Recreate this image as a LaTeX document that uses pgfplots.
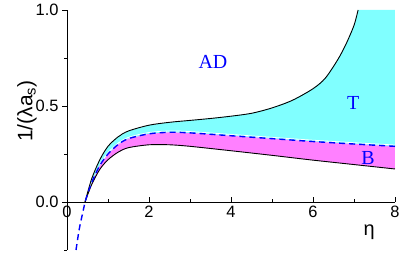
\documentclass[border=0pt]{standalone}
\usepackage{pgfplots}
\pgfplotsset{compat=1.18}
\usepgfplotslibrary{fillbetween}
\usepackage{fontspec}
\setmainfont{Liberation Sans}
\newfontfamily\seriffont{Liberation Serif}
\definecolor{mycyan}{RGB}{128,255,255}
\definecolor{mymag}{RGB}{255,128,255}
\begin{document}
\begin{tikzpicture}
\begin{axis}[
  at={(67bp,8bp)}, anchor=south west,
  scale only axis, width=328bp, height=240bp,
  xmin=0, xmax=8, ymin=-0.25, ymax=1.0,
  axis x line=middle, axis y line=left,
  axis line style={-, line width=0.6bp},
  hide obscured x ticks=false,
  xtick={0,2,4,6,8}, minor xtick={1,3,5,7},
  ytick={0,0.5,1}, minor ytick={-0.25,0.25,0.75},
  xtick align=inside, ytick align=outside,
  major tick length=5bp, minor tick length=3bp,
  tick style={black, line width=0.6bp},
  yticklabel style={/pgf/number format/.cd, fixed, fixed zerofill, precision=1},
  /pgf/number format/assume math mode=true,
  ticklabel style={font=\fontsize{16.5}{18}\selectfont},
  xticklabel style={yshift=-1bp},
  clip=false,
]
\addplot[name path=upext, draw=none] coordinates {
 (0.44,0) (0.6,0.12) (0.8,0.22) (1.0,0.29) (1.25,0.34) (1.5,0.37) (2,0.40) (2.5,0.415) (3,0.425) (3.5,0.435) (4,0.447) (4.5,0.462) (5,0.49) (5.5,0.53) (6,0.59) (6.3,0.645) (6.6,0.74) (6.8,0.82) (7.0,0.92) (7.1,1.0) (8,1.0)};
\addplot[name path=dash, draw=none] coordinates {
 (0.22,-0.25) (0.3,-0.14) (0.4,-0.04) (0.44,0) (0.6,0.10) (0.8,0.19) (1.0,0.25) (1.25,0.30) (1.5,0.33) (2,0.355) (2.5,0.363) (3,0.36) (4,0.345) (5,0.33) (6,0.315) (7,0.302) (8,0.29)};
\addplot[name path=low, draw=none] coordinates {
 (0.44,0) (0.6,0.09) (0.8,0.17) (1.0,0.22) (1.25,0.26) (1.5,0.283) (2,0.298) (2.5,0.298) (3,0.29) (4,0.267) (5,0.243) (6,0.218) (7,0.195) (8,0.172)};
\addplot[mycyan] fill between[of=upext and dash, soft clip={domain=0.44:8}];
\addplot[mymag] fill between[of=dash and low, soft clip={domain=0.44:8}];
\addplot[white, line width=0.8bp, smooth, yshift=1.3bp] coordinates {
 (0.8,0.19) (1.0,0.25) (1.25,0.30) (1.5,0.33) (2,0.355) (2.5,0.363) (3,0.36) (4,0.345) (5,0.33) (6,0.315) (7,0.302) (8,0.29)};
\addplot[black, line width=0.9bp, smooth] coordinates {
 (0.44,0) (0.6,0.12) (0.8,0.22) (1.0,0.29) (1.25,0.34) (1.5,0.37) (2,0.40) (2.5,0.415) (3,0.425) (3.5,0.435) (4,0.447) (4.5,0.462) (5,0.49) (5.5,0.53) (6,0.59) (6.3,0.645) (6.6,0.74) (6.8,0.82) (7.0,0.92) (7.1,1.0)};
\addplot[black, line width=0.9bp, smooth] coordinates {
 (0.44,0) (0.6,0.09) (0.8,0.17) (1.0,0.22) (1.25,0.26) (1.5,0.283) (2,0.298) (2.5,0.298) (3,0.29) (4,0.267) (5,0.243) (6,0.218) (7,0.195) (8,0.172)};
\addplot[blue, line width=1.4bp, dash pattern=on 6bp off 4bp, smooth] coordinates {
 (0.22,-0.25) (0.3,-0.14) (0.4,-0.04) (0.44,0) (0.6,0.10) (0.8,0.19) (1.0,0.25) (1.25,0.30) (1.5,0.33) (2,0.355) (2.5,0.363) (3,0.36) (4,0.345) (5,0.33) (6,0.315) (7,0.302) (8,0.29)};
\node[blue, font=\seriffont\fontsize{20}{22}\selectfont] at (axis cs:3.56,0.73) {AD};
\node[blue, font=\seriffont\fontsize{20}{22}\selectfont] at (axis cs:6.98,0.516) {T};
\node[blue, font=\seriffont\fontsize{20}{22}\selectfont] at (axis cs:7.34,0.23) {B};
\node[font=\fontsize{20}{22}\selectfont] at (axis cs:7.37,-0.155) {η};
\end{axis}
\node[rotate=90, font=\fontsize{21}{23}\selectfont] at (27bp,147bp) {1/(λa\textsubscript{s})};
\path (0,0) rectangle (409bp,258bp);
\end{tikzpicture}
\end{document}
